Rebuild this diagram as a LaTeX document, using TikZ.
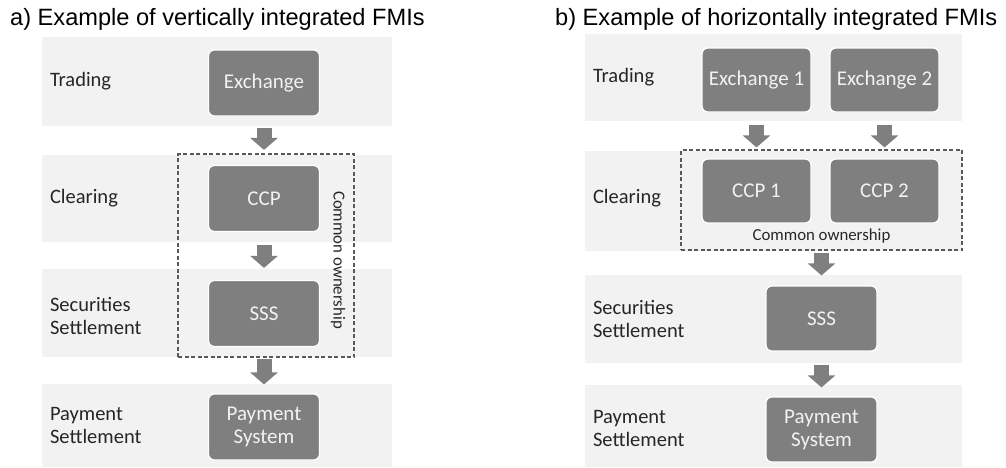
\documentclass[tikz,border=0pt]{standalone}
\usepackage{fontspec}
\setmainfont{Carlito}
\newfontfamily\arialfont{Liberation Sans}
\usepackage{xcolor}
\usetikzlibrary{positioning,fit,calc,arrows.meta}
\definecolor{bandgray}{HTML}{F2F2F2}
\definecolor{boxgray}{HTML}{7F7F7F}
\definecolor{dashgray}{HTML}{595959}
\definecolor{labtext}{HTML}{262626}

\begin{document}
\begin{tikzpicture}[x=1pt,y=-1pt,
  band/.style={fill=bandgray,inner sep=0pt,minimum width=#1},
  band/.default=350,
  fmi/.style={fill=boxgray,draw=white,line width=1.2pt,rounded corners=6pt,text=bandgray,
    font=\fontsize{21}{23}\selectfont,align=center,inner sep=0pt,minimum width=111,minimum height=66},
  lab/.style={text=labtext,font=\fontsize{20.5}{23}\selectfont,align=left,inner sep=0pt,anchor=west},
  own/.style={draw=dashgray,line width=1.3pt,dash pattern=on 4pt off 2.5pt,inner sep=0pt},
  owntxt/.style={text=labtext,font=\fontsize{16.8}{20}\selectfont,inner sep=0pt},
  blk/.style={draw=boxgray,line width=15pt,-{Triangle[length=12pt,width=27pt]}},
  ttl/.style={font=\arialfont\fontsize{23.6}{26}\selectfont,inner sep=0pt,anchor=base west}]
  \useasboundingbox (0,0) rectangle (1006,467);

  % a) vertically integrated
  \node[ttl] (ttla) at (10,25) {a) Example of vertically integrated FMIs};
  \node[band,minimum height=89] (atr) at (217,81.5) {};
  \node[band,minimum height=87] (acl) at (217,198.5) {};
  \node[band,minimum height=88] (ass) at (217,313) {};
  \node[band,minimum height=83] (aps) at (217,425.5) {};
  \node[lab,right=8pt of atr.west] {Trading};
  \node[lab,right=8pt of acl.west] {Clearing};
  \node[lab,right=8pt of ass.west,yshift=-3pt] {Securities\\Settlement};
  \node[lab,right=8pt of aps.west] {Payment\\Settlement};

  \node[fmi] (aex) at (264,83) {Exchange};
  \node[fmi] (accp) at (264,198.5) {CCP};
  \node[fmi] (asss) at (264,313.5) {SSS};
  \node[fmi] (apay) at (264,427) {Payment\\System};

  \node[own,minimum width=176,minimum height=203] (aown) at (266,255.5) {};
  \node[owntxt,rotate=-90] at (338,260) {Common ownership};

  \draw[blk,shorten <=11pt,shorten >=15pt] (aex) -- (accp);
  \draw[blk,shorten <=13pt,shorten >=12pt] (accp) -- (asss);
  \draw[blk,shorten <=12pt,shorten >=9pt] (asss) -- (apay);

  % b) horizontally integrated
  \node[ttl] (ttlb) at (555,25) {b) Example of horizontally integrated FMIs};
  \node[band=377,minimum height=87] (btr) at (773.5,77.5) {};
  \node[band=377,minimum height=100] (bcl) at (773.5,201) {};
  \node[band=377,minimum height=88] (bss) at (773.5,319) {};
  \node[band=377,minimum height=82] (bps) at (773.5,426) {};
  \node[lab,right=8pt of btr.west] {Trading};
  \node[lab,right=8pt of bcl.west,yshift=3pt] {Clearing};
  \node[lab,right=8pt of bss.west] {Securities\\Settlement};
  \node[lab,right=8pt of bps.west,yshift=-2pt] {Payment\\Settlement};

  \node[fmi,minimum width=109,minimum height=64] (bex1) at (756.5,80) {Exchange 1};
  \node[fmi,minimum width=109,minimum height=64] (bex2) at (884.5,80) {Exchange 2};
  \node[fmi,minimum width=109,minimum height=64] (bccp1) at (756.5,191) {CCP 1};
  \node[fmi,minimum width=109,minimum height=64] (bccp2) at (884.5,191) {CCP 2};
  \node[fmi,minimum width=111,minimum height=65] (bsss) at (821.5,318.5) {SSS};
  \node[fmi,minimum width=111,minimum height=65] (bpay) at (821.5,429.5) {Payment\\System};

  \node[own,minimum width=281,minimum height=100] (bown) at (821.5,200) {};
  \node[owntxt] at (821.5,236) {Common ownership};

  \draw[blk,shorten <=12pt,shorten >=11pt] (bex1) -- (bccp1);
  \draw[blk,shorten <=12pt,shorten >=11pt] (bex2) -- (bccp2);
  \draw[blk,shorten <=2pt,shorten >=10pt] (bown) -- (bsss);
  \draw[blk,shorten <=13pt,shorten >=9pt] (bsss) -- (bpay);
\end{tikzpicture}
\end{document}
